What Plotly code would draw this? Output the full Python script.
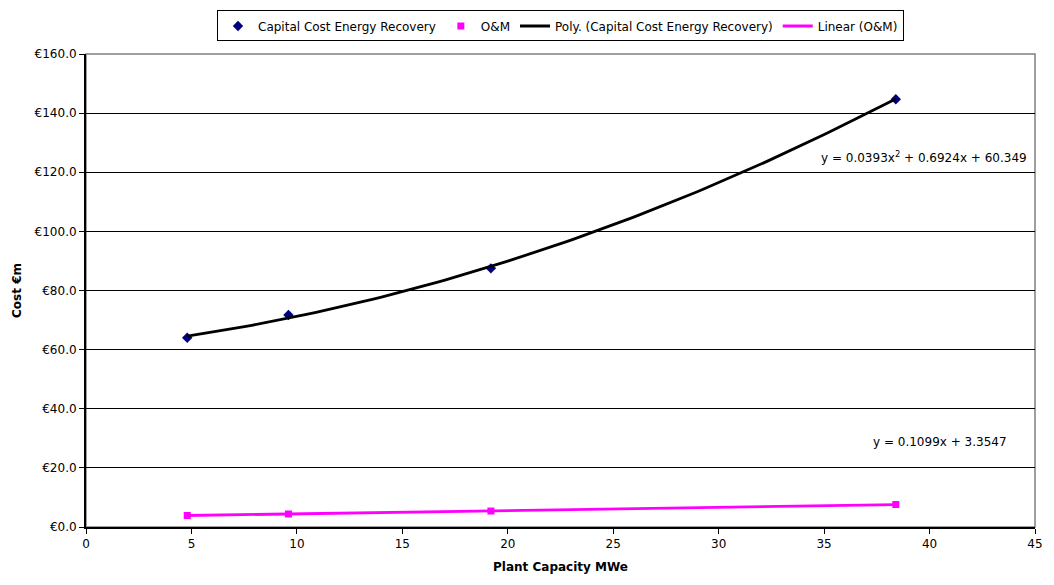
import numpy as np
import plotly.graph_objects as go

capacity = [4.8, 9.6, 19.2, 38.4]
capital_cost = [64.0, 71.7, 87.5, 144.7]
om_cost = [3.9, 4.4, 5.4, 7.6]
poly_coef = [0.0393, 0.6924, 60.349]
lin_coef = [0.1099, 3.3547]
x_ticks = [0, 5, 10, 15, 20, 25, 30, 35, 40, 45]
y_ticks = [0, 20, 40, 60, 80, 100, 120, 140, 160]
y_tick_labels = ["€0.0", "€20.0", "€40.0", "€60.0", "€80.0", "€100.0", "€120.0", "€140.0", "€160.0"]
poly_label = "y = 0.0393x<sup>2</sup> + 0.6924x + 60.349"
lin_label = "y = 0.1099x + 3.3547"

xs = np.linspace(min(capacity), max(capacity), 100)
poly_y = np.polyval(poly_coef, xs)
lin_y = np.polyval(lin_coef, xs)

FONT = "DejaVu Sans, Arial, sans-serif"

fig = go.Figure()
fig.add_trace(go.Scatter(x=capacity, y=capital_cost, mode="markers",
                         name="Capital Cost Energy Recovery",
                         marker=dict(symbol="diamond", color="#000080", size=8)))
fig.add_trace(go.Scatter(x=capacity, y=om_cost, mode="markers", name="O&M",
                         marker=dict(symbol="square", color="#FF00FF", size=7)))
fig.add_trace(go.Scatter(x=xs, y=poly_y, mode="lines",
                         name="Poly. (Capital Cost Energy Recovery)",
                         line=dict(color="black", width=2.8)))
fig.add_trace(go.Scatter(x=xs, y=lin_y, mode="lines", name="Linear (O&M)",
                         line=dict(color="#FF00FF", width=2.8)))

fig.update_layout(
    width=1054, height=585,
    margin=dict(l=86, r=11, t=51, b=58),
    paper_bgcolor="white", plot_bgcolor="white",
    font=dict(family=FONT, size=12, color="black"),
    showlegend=True,
    legend=dict(orientation="h", x=0.5, xanchor="center", y=1.092, yanchor="top",
                bordercolor="black", borderwidth=1, bgcolor="white",
                font=dict(size=12), itemwidth=30, tracegroupgap=0),
    xaxis=dict(range=[0, 45], tickvals=x_ticks, showgrid=False, zeroline=False,
               showline=True, linecolor="black", linewidth=2, ticks="outside",
               ticklen=5, tickcolor="black", tickfont=dict(size=12),
               title=dict(text="<b>Plant Capacity MWe</b>", font=dict(size=12), standoff=12)),
    yaxis=dict(range=[0, 160], tickvals=y_ticks, ticktext=y_tick_labels,
               showgrid=True, gridcolor="black", gridwidth=1, zeroline=False,
               showline=True, linecolor="black", linewidth=2, ticks="outside",
               ticklen=5, tickcolor="black", tickfont=dict(size=12),
               title=dict(text="<b>Cost €m</b>", font=dict(size=12), standoff=10)),
    shapes=[dict(type="rect", xref="paper", yref="paper", x0=0, x1=1, y0=0, y1=1,
                 line=dict(color="#808080", width=1.5), layer="below")],
    annotations=[
        dict(x=0.9937, y=0.7815, xref="paper", yref="paper", text=poly_label, showarrow=False,
             xanchor="right", yanchor="middle", font=dict(size=12)),
        dict(x=0.9728, y=0.1807, xref="paper", yref="paper", text=lin_label, showarrow=False,
             xanchor="right", yanchor="middle", font=dict(size=12)),
    ],
)

fig.write_html("out.html")
